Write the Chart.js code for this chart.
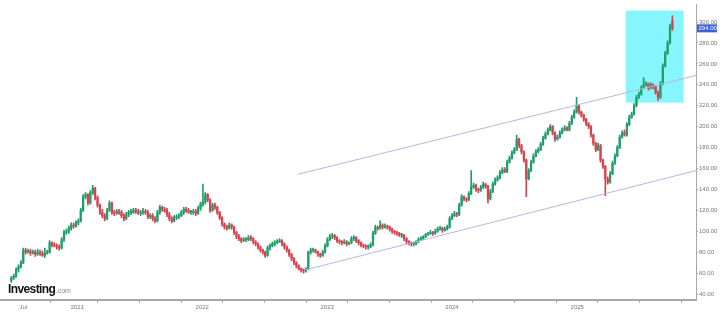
<!DOCTYPE html>
<html>
<head>
<meta charset="utf-8">
<script src="https://cdn.jsdelivr.net/npm/chart.js@4.4.1/dist/chart.umd.min.js"></script>
<style>
  html, body { margin: 0; padding: 0; background: #fff; }
  #wrap { width: 722px; height: 326px; }
</style>
</head>
<body>
<div id="wrap"><canvas id="priceChart" width="722" height="326"></canvas></div>
<script>
// weekly candles, first week starts 2020-06-22
var firstWeek = '2020-06-22';

var opens = [
    53, 55, 57, 63, 66, 70, 82, 80, 81, 79,
    80, 78, 80, 79, 77, 79, 80, 89, 87, 86,
    85, 84, 92, 99, 100, 103, 106, 105, 108, 110,
    120, 133, 135, 127, 137, 141, 132, 125, 118, 115,
    112, 120, 127, 118, 117, 119, 118, 115, 112, 116,
    118, 118, 120, 119, 117, 118, 119, 118, 114, 115,
    112, 110, 118, 123, 121, 120, 116, 112, 110, 113,
    114, 115, 118, 121, 120, 118, 118, 119, 117, 122,
    126, 128, 135, 130, 120, 125, 123, 118, 113, 107,
    104, 103, 106, 104, 99, 95, 93, 91, 92, 92,
    94, 93, 90, 88, 85, 82, 80, 77, 84, 86,
    88, 89, 90, 91, 88, 85, 82, 78, 74, 70,
    67, 64, 63, 62, 64, 80, 82, 82, 80, 78,
    77, 80, 86, 92, 95, 96, 94, 91, 90, 89,
    90, 88, 89, 93, 94, 91, 89, 87, 86, 85,
    85, 87, 98, 104, 103, 106, 104, 105, 104, 102,
    100, 99, 98, 96, 96, 93, 90, 89, 88, 88,
    90, 92, 93, 95, 97, 98, 99, 98, 100, 102,
    103, 101, 102, 104, 112, 115, 117, 116, 125, 133,
    131, 130, 136, 142, 144, 140, 139, 142, 145, 143,
    131, 138, 145, 149, 151, 156, 159, 157, 166, 170,
    175, 178, 188, 182, 176, 168, 150, 158, 166, 172,
    176, 178, 183, 189, 193, 197, 200, 194, 188, 190,
    194, 197, 199, 197, 203, 209, 214, 220, 214, 211,
    207, 203, 200, 192, 184, 178, 182, 168, 162, 150,
    147, 155, 165, 172, 180, 190, 194, 192, 202, 209,
    212, 220, 228, 231, 237, 240, 241, 237, 240, 238,
    233, 228, 241, 258, 270, 280, 301
];
var highs = [
    57, 59, 65, 68, 72, 84, 84, 83, 83, 82,
    82, 83, 82, 81, 84, 82, 91, 90, 89, 88,
    87, 94, 101, 102, 105, 108, 108, 110, 112, 122,
    135, 137, 136, 139, 144, 142, 134, 126, 121, 117,
    122, 129, 128, 120, 121, 121, 120, 117, 118, 120,
    121, 122, 122, 121, 120, 122, 121, 120, 117, 117,
    114, 120, 125, 124, 123, 122, 118, 114, 115, 116,
    117, 120, 123, 123, 122, 120, 121, 121, 124, 128,
    145, 137, 136, 131, 127, 127, 124, 119, 114, 108,
    106, 108, 107, 105, 100, 97, 94, 94, 94, 96,
    96, 94, 91, 89, 86, 83, 81, 86, 88, 90,
    91, 92, 93, 92, 89, 86, 83, 79, 75, 71,
    68, 65, 64, 65, 81, 84, 84, 83, 81, 79,
    82, 88, 94, 97, 98, 97, 95, 92, 91, 92,
    91, 90, 95, 96, 95, 92, 90, 88, 87, 87,
    89, 100, 106, 105, 110, 107, 107, 106, 105, 103,
    101, 100, 99, 98, 97, 94, 91, 90, 90, 91,
    94, 95, 96, 98, 99, 101, 100, 102, 104, 105,
    104, 104, 106, 114, 117, 119, 118, 127, 135, 134,
    132, 138, 158, 146, 145, 141, 144, 147, 146, 144,
    140, 147, 151, 153, 158, 161, 161, 168, 172, 177,
    180, 192, 189, 183, 177, 169, 160, 168, 174, 178,
    180, 185, 191, 195, 199, 202, 201, 195, 192, 196,
    199, 201, 200, 205, 211, 216, 228, 221, 215, 212,
    208, 204, 201, 193, 185, 184, 183, 169, 163, 152,
    157, 167, 174, 182, 192, 196, 197, 204, 211, 214,
    222, 230, 233, 239, 247, 243, 242, 242, 241, 239,
    234, 243, 260, 272, 282, 298, 306
];
var lows = [
    51, 54, 56, 61, 65, 69, 78, 79, 77, 78,
    76, 77, 77, 76, 75, 78, 79, 85, 85, 83,
    82, 83, 90, 97, 98, 101, 103, 104, 106, 109,
    119, 131, 125, 126, 135, 130, 123, 116, 113, 110,
    111, 119, 116, 115, 116, 116, 113, 110, 111, 114,
    116, 117, 117, 116, 115, 116, 116, 112, 112, 110,
    108, 109, 116, 119, 118, 114, 110, 108, 109, 111,
    112, 114, 116, 118, 117, 116, 116, 115, 116, 120,
    124, 126, 128, 118, 119, 121, 116, 111, 105, 102,
    101, 102, 102, 97, 93, 91, 89, 90, 90, 91,
    91, 88, 86, 83, 80, 78, 75, 76, 82, 85,
    86, 88, 89, 86, 83, 80, 76, 72, 68, 65,
    63, 61, 60, 61, 63, 78, 80, 79, 76, 75,
    76, 79, 85, 91, 93, 92, 89, 88, 87, 88,
    86, 87, 88, 91, 89, 87, 85, 84, 83, 83,
    84, 86, 97, 101, 102, 102, 103, 102, 100, 98,
    97, 96, 95, 94, 91, 88, 87, 86, 86, 87,
    89, 91, 92, 94, 96, 97, 96, 97, 99, 101,
    99, 100, 101, 103, 111, 114, 114, 115, 124, 129,
    128, 129, 135, 141, 138, 137, 138, 141, 141, 127,
    130, 137, 144, 148, 150, 155, 156, 156, 165, 169,
    174, 177, 180, 174, 166, 133, 149, 157, 165, 171,
    175, 177, 182, 188, 192, 196, 192, 186, 187, 189,
    193, 196, 196, 196, 202, 208, 213, 212, 209, 205,
    201, 198, 190, 182, 176, 177, 166, 160, 134, 145,
    146, 154, 164, 171, 179, 189, 191, 191, 201, 208,
    211, 219, 227, 230, 236, 239, 235, 236, 236, 231,
    225, 227, 240, 257, 269, 279, 292
];
var closes = [
    55, 57, 63, 66, 70, 82, 80, 81, 79, 80,
    78, 80, 79, 77, 79, 80, 89, 87, 86, 85,
    84, 92, 99, 100, 103, 106, 105, 108, 110, 120,
    133, 135, 127, 137, 141, 132, 125, 118, 115, 112,
    120, 127, 118, 117, 119, 118, 115, 112, 116, 118,
    118, 120, 119, 117, 118, 119, 118, 114, 115, 112,
    110, 118, 123, 121, 120, 116, 112, 110, 113, 114,
    115, 118, 121, 120, 118, 118, 119, 117, 122, 126,
    128, 135, 130, 120, 125, 123, 118, 113, 107, 104,
    103, 106, 104, 99, 95, 93, 91, 92, 92, 94,
    93, 90, 88, 85, 82, 80, 77, 84, 86, 88,
    89, 90, 91, 88, 85, 82, 78, 74, 70, 67,
    64, 63, 62, 64, 80, 82, 82, 80, 78, 77,
    80, 86, 92, 95, 96, 94, 91, 90, 89, 90,
    88, 89, 93, 94, 91, 89, 87, 86, 85, 85,
    87, 98, 104, 103, 106, 104, 105, 104, 102, 100,
    99, 98, 96, 96, 93, 90, 89, 88, 88, 90,
    92, 93, 95, 97, 98, 99, 98, 100, 102, 103,
    101, 102, 104, 112, 115, 117, 116, 125, 133, 131,
    130, 136, 142, 144, 140, 139, 142, 145, 143, 131,
    138, 145, 149, 151, 156, 159, 157, 166, 170, 175,
    178, 188, 182, 176, 168, 150, 158, 166, 172, 176,
    178, 183, 189, 193, 197, 200, 194, 188, 190, 194,
    197, 199, 197, 203, 209, 214, 220, 214, 211, 207,
    203, 200, 192, 184, 178, 182, 168, 162, 150, 147,
    155, 165, 172, 180, 190, 194, 192, 202, 209, 212,
    220, 228, 231, 237, 240, 241, 237, 240, 238, 233,
    228, 241, 258, 270, 280, 296, 294
];

// trend channel drawn on the chart
var upperChannel = [['2022-10-08', 154.5], ['2025-12-14', 249]];
var lowerChannel = [['2022-10-28', 63], ['2025-12-14', 158]];

// highlighted zone (top right)
var zoneDates = ['2025-05-23', '2025-11-08'];
var zonePrices = [223, 311];

var xTickDates = ['2020-07-27', '2021-01-01', '2021-05-01', '2021-09-01', '2022-01-01', '2022-05-01', '2022-09-01',
    '2023-01-01', '2023-05-01', '2023-09-01', '2024-01-01', '2024-05-01', '2024-09-01', '2025-01-01', '2025-05-01', '2025-09-01'];
var xTickLabels = ['Jul', '2021', '', '', '2022', '', '', '2023', '', '', '2024', '', '', '2025', '', ''];
var yTicks = [40, 60, 80, 100, 120, 140, 160, 180, 200, 220, 240, 260, 280, 300];

function d(s) { return Date.parse(s); }

var t0 = d(firstWeek);
var weekMs = 7 * 24 * 3600 * 1000;
var wicks = [], bodies = [], candleColors = [];
for (var i = 0; i < closes.length; i++) {
    var t = t0 + i * weekMs;
    wicks.push({ x: t, y: [lows[i], highs[i]] });
    bodies.push({ x: t, y: [opens[i], closes[i]] });
    candleColors.push(closes[i] >= opens[i] ? '#1f9e6c' : '#d6434f');
}

var zonePlugin = {
    id: 'zone',
    beforeDatasetsDraw: function (chart) {
        var ctx = chart.ctx, x = chart.scales.x, y = chart.scales.y;
        var x0 = x.getPixelForValue(d(zoneDates[0])), x1 = x.getPixelForValue(d(zoneDates[1]));
        var y0 = y.getPixelForValue(zonePrices[1]), y1 = y.getPixelForValue(zonePrices[0]);
        ctx.save();
        ctx.fillStyle = '#86f5fc';
        ctx.fillRect(x0, y0, x1 - x0, y1 - y0);
        ctx.restore();
    }
};

var extrasPlugin = {
    id: 'extras',
    afterDraw: function (chart) {
        var ctx = chart.ctx, y = chart.scales.y, area = chart.chartArea;
        var last = closes[closes.length - 1];
        var py = y.getPixelForValue(last);
        ctx.save();
        // last price tag
        ctx.fillStyle = '#3d62dc';
        ctx.fillRect(area.right + 1, py - 4, 20, 8);
        ctx.fillStyle = '#fff';
        ctx.font = '6px "Liberation Sans", Arial';
        ctx.textBaseline = 'middle';
        ctx.fillText(last.toFixed(2), area.right + 2.5, py);
        // logo
        ctx.fillStyle = '#111';
        ctx.font = 'bold 12px "Liberation Sans", Arial';
        ctx.letterSpacing = '-0.6px';
        ctx.textBaseline = 'alphabetic';
        ctx.fillText('Investing', 8, 293);
        var w = ctx.measureText('Investing').width;
        ctx.letterSpacing = '0px';
        ctx.fillStyle = '#888';
        ctx.font = '7px "Liberation Sans", Arial';
        ctx.fillText('.com', 8 + w + 0.5, 293);
        ctx.restore();
    }
};

var ctxPrice = document.getElementById('priceChart').getContext('2d');
var priceChart = new Chart(ctxPrice, {
    type: 'bar',
    data: {
        datasets: [{
            label: 'wick',
            data: wicks,
            backgroundColor: candleColors,
            barThickness: 1,
            grouped: false,
            order: 2
        }, {
            label: 'body',
            data: bodies,
            backgroundColor: candleColors,
            barThickness: 1.6,
            minBarLength: 1,
            grouped: false,
            order: 1
        }, {
            type: 'line',
            label: 'upper',
            data: upperChannel.map(function (p) { return { x: d(p[0]), y: p[1] }; }),
            borderColor: '#b9b5e6',
            borderWidth: 1,
            pointRadius: 0,
            order: 0
        }, {
            type: 'line',
            label: 'lower',
            data: lowerChannel.map(function (p) { return { x: d(p[0]), y: p[1] }; }),
            borderColor: '#b9b5e6',
            borderWidth: 1,
            pointRadius: 0,
            order: 0
        }]
    },
    options: {
        responsive: false,
        animation: false,
        layout: { padding: 0 },
        plugins: { legend: { display: false }, tooltip: { enabled: false } },
        scales: {
            x: {
                type: 'linear',
                offset: false,
                min: d('2020-05-20'),
                max: d('2025-12-14'),
                afterBuildTicks: function (s) {
                    s.ticks = xTickDates.map(function (v) { return { value: d(v) }; });
                },
                afterFit: function (s) { s.height = 26; },
                grid: { display: true, drawOnChartArea: false, tickLength: 3, color: '#aaa' },
                border: { color: '#a8a8a8', width: 2 },
                ticks: {
                    autoSkip: false,
                    maxRotation: 0,
                    padding: 1,
                    color: '#777',
                    font: { size: 6, family: '"Liberation Sans", Arial' },
                    callback: function (v, idx) { return xTickLabels[idx]; }
                }
            },
            y: {
                position: 'right',
                min: 34.3,
                max: 316.7,
                afterBuildTicks: function (s) {
                    s.ticks = yTicks.map(function (v) { return { value: v }; });
                },
                afterFit: function (s) { s.width = 26; },
                grid: { display: true, drawOnChartArea: false, tickLength: 2, color: '#aaa' },
                border: { color: '#a8a8a8', width: 1 },
                ticks: {
                    padding: 1,
                    color: '#777',
                    font: { size: 6, family: '"Liberation Sans", Arial' },
                    callback: function (v) { return Number(v).toFixed(2); }
                }
            }
        }
    },
    plugins: [zonePlugin, extrasPlugin]
});
</script>
</body>
</html>
